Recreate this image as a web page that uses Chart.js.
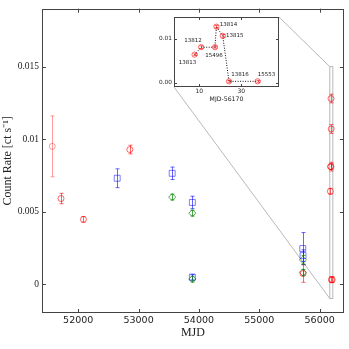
<!DOCTYPE html>
<html>
<head>
<meta charset="utf-8">
<script src="https://cdn.jsdelivr.net/npm/chart.js@4.4.1/dist/chart.umd.min.js"></script>
<style>
  html, body { margin: 0; padding: 0; background: #fff; }
  #wrap { position: relative; width: 349px; height: 349px; }
  #mainChart { position: absolute; left: 0; top: 0; }
  #insetChart { position: absolute; left: 150px; top: 10px; }
</style>
</head>
<body>
<div id="wrap">
  <canvas id="mainChart" width="349" height="349"></canvas>
  <canvas id="insetChart" width="135" height="95"></canvas>
</div>
<script>
// Light curve: count rate vs MJD, three instruments + zoom on the 2012 outburst

// main axes ticks
const xTicks = [52000, 53000, 54000, 55000, 56000];
const yTicks = [0, 0.005, 0.01, 0.015];
const yTickLabels = ['0', '0.005', '0.01', '0.015'];

// red circles (earlier obs)
const redMjd  = [51570, 51715, 52087, 52855, 55725];
const redRate = [0.0095, 0.0059, 0.00446, 0.00928, 0.00072];
const redErr  = [0.0021, 0.00036, 0.0002, 0.0003, 0.0006];

// blue squares
const blueMjd  = [52646, 53557, 53891, 53891, 55720, 55725];
const blueRate = [0.0073, 0.00764, 0.00563, 0.00047, 0.00245, 0.00196];
const blueErr  = [0.00065, 0.00043, 0.00043, 0.0002, 0.0011, 0.0004];

// green diamonds
const greenMjd  = [53557, 53891, 53891, 55722, 55722];
const greenRate = [0.0060, 0.00489, 0.00034, 0.00167, 0.0008];
const greenErr  = [0.0002, 0.0002, 0.0002, 0.0003, 0.0002];

// 2012 outburst (inset), days after MJD 56170
const mjdOffset = 56170;
const obsIds  = ['13813', '13812', '15496', '13814', '13815', '13816', '15553'];
const obsDay  = [7.8, 10.9, 17.5, 18.2, 21.2, 24.2, 37.8];
const obsRate = [0.0064, 0.0081, 0.0081, 0.0128, 0.0107, 0.0003, 0.0003];
const obsErr  = [0.0002, 0.0003, 0.0002, 0.0003, 0.0003, 0.0002, 0.0002];

// inset axes
const insetXTicks = [10, 30];
const insetYTicks = [0, 0.01];
const insetYTickLabels = ['0.00', '0.01'];
const insetXRange = [-2, 48];
const insetYRange = [-0.001, 0.015];

// label offsets (px) for the obsid annotations
const labelOffsets = [[-7, 8], [-8, -7], [-1, 8], [12, -2], [12, 0], [11, -7], [9, -7]];

const axisColor = '#444';

// error bars drawn through the library scales
const errorBarPlugin = {
    id: 'errorBars',
    afterDatasetsDraw(chart) {
        const ctx = chart.ctx;
        const yScale = chart.scales.y;
        chart.data.datasets.forEach((ds, di) => {
            if (!ds.errors) return;
            const meta = chart.getDatasetMeta(di);
            ctx.save();
            ctx.lineWidth = 1;
            meta.data.forEach((pt, i) => {
                const v = ds.data[i].y;
                const e = ds.errors[i];
                const top = yScale.getPixelForValue(v + e);
                const bot = yScale.getPixelForValue(v - e);
                const x = Math.round(pt.x) + 0.5;
                ctx.strokeStyle = Array.isArray(ds.errColor) ? ds.errColor[i] : ds.errColor;
                ctx.beginPath();
                ctx.moveTo(x, top);
                ctx.lineTo(x, bot);
                ctx.moveTo(x - 2, top);
                ctx.lineTo(x + 2, top);
                ctx.moveTo(x - 2, bot);
                ctx.lineTo(x + 2, bot);
                ctx.stroke();
            });
            ctx.restore();
        });
    }
};

// matplotlib-ish frame with inward ticks on all four sides
function framePlugin(tickLen) {
    return {
        id: 'frame',
        afterDraw(chart) {
            const { ctx, chartArea: a, scales } = chart;
            ctx.save();
            ctx.strokeStyle = axisColor;
            ctx.lineWidth = 1;
            ctx.strokeRect(Math.round(a.left) + 0.5, Math.round(a.top) + 0.5,
                Math.round(a.right - a.left) - 1, Math.round(a.bottom - a.top) - 1);
            ctx.beginPath();
            scales.x.ticks.forEach(t => {
                const x = Math.round(scales.x.getPixelForValue(t.value)) + 0.5;
                ctx.moveTo(x, a.bottom); ctx.lineTo(x, a.bottom - tickLen);
                ctx.moveTo(x, a.top); ctx.lineTo(x, a.top + tickLen);
            });
            scales.y.ticks.forEach(t => {
                const y = Math.round(scales.y.getPixelForValue(t.value)) + 0.5;
                ctx.moveTo(a.left, y); ctx.lineTo(a.left + tickLen, y);
                ctx.moveTo(a.right, y); ctx.lineTo(a.right - tickLen, y);
            });
            ctx.stroke();
            ctx.restore();
        }
    };
}

// ---------- inset ----------
function initInsetChart() {
    const ctx = document.getElementById('insetChart').getContext('2d');
    const pts = obsDay.map((d, i) => ({ x: d, y: obsRate[i] }));

    const labelPlugin = {
        id: 'obsLabels',
        beforeDraw(chart) {
            const a = chart.chartArea;
            chart.ctx.save();
            chart.ctx.fillStyle = '#fff';
            chart.ctx.fillRect(a.left, a.top, a.right - a.left, a.bottom - a.top);
            chart.ctx.restore();
        },
        afterDatasetsDraw(chart) {
            const c = chart.ctx;
            const meta = chart.getDatasetMeta(0);
            c.save();
            c.font = '5.5px "DejaVu Sans"';
            c.fillStyle = '#222';
            c.textAlign = 'center';
            c.textBaseline = 'middle';
            meta.data.forEach((pt, i) => {
                c.fillText(obsIds[i], pt.x + labelOffsets[i][0], pt.y + labelOffsets[i][1]);
            });
            c.restore();
        }
    };

    return new Chart(ctx, {
        type: 'scatter',
        data: {
            datasets: [{
                data: pts,
                errors: obsErr,
                errColor: 'rgba(255, 0, 0, 0.6)',
                showLine: true,
                borderColor: '#111',
                borderWidth: 1,
                borderDash: [1, 1.5],
                pointStyle: 'circle',
                pointRadius: 2.6,
                pointBorderWidth: 1,
                pointBorderColor: 'rgba(255, 0, 0, 0.6)',
                pointBackgroundColor: 'rgba(255, 255, 255, 0)'
            }]
        },
        options: {
            responsive: false,
            animation: false,
            events: [],
            layout: { padding: { top: 7, right: 6, left: 0, bottom: 0 } },
            plugins: { legend: { display: false }, tooltip: { enabled: false } },
            scales: {
                x: {
                    type: 'linear',
                    min: insetXRange[0],
                    max: insetXRange[1],
                    grid: { display: false, drawTicks: false },
                    border: { display: false },
                    afterBuildTicks: s => { s.ticks = insetXTicks.map(v => ({ value: v })); },
                    afterFit: s => { s.height = 18; },
                    ticks: {
                        padding: 1,
                        maxRotation: 0,
                        color: '#222',
                        font: { family: 'DejaVu Sans', size: 6 },
                        callback: v => String(v)
                    },
                    title: {
                        display: true,
                        text: 'MJD-56170',
                        color: '#222',
                        font: { family: 'DejaVu Sans', size: 6.2 },
                        padding: { top: 0, bottom: 2 }
                    }
                },
                y: {
                    min: insetYRange[0],
                    max: insetYRange[1],
                    grid: { display: false, drawTicks: false },
                    border: { display: false },
                    afterBuildTicks: s => { s.ticks = insetYTicks.map(v => ({ value: v })); },
                    afterFit: s => { s.width = 24; },
                    ticks: {
                        padding: 2,
                        color: '#222',
                        font: { family: 'DejaVu Sans', size: 5.8 },
                        callback: v => insetYTickLabels[insetYTicks.indexOf(v)]
                    }
                }
            }
        },
        plugins: [labelPlugin, errorBarPlugin, framePlugin(3)]
    });
}

// ---------- main ----------
function initMainChart(inset) {
    const ctx = document.getElementById('mainChart').getContext('2d');
    const insetBox = document.getElementById('insetChart');
    const offX = insetBox.offsetLeft, offY = insetBox.offsetTop;

    const red = redMjd.map((m, i) => ({ x: m, y: redRate[i] }))
        .concat(obsDay.map((d, i) => ({ x: mjdOffset + d, y: obsRate[i] })));
    const redE = redErr.concat(obsErr);
    const redCol = red.map((p, i) => i === 0 ? 'rgba(255, 0, 0, 0.38)' : 'rgba(255, 0, 0, 0.6)');

    const zoomPlugin = {
        id: 'zoomBox',
        beforeDatasetsDraw(chart) {
            const c = chart.ctx, sx = chart.scales.x, sy = chart.scales.y;
            const x0 = sx.getPixelForValue(mjdOffset + insetXRange[0]);
            const x1 = sx.getPixelForValue(mjdOffset + insetXRange[1]);
            const y0 = sy.getPixelForValue(insetYRange[1]);
            const y1 = sy.getPixelForValue(insetYRange[0]);
            const ia = inset.chartArea;
            c.save();
            c.strokeStyle = '#b8b8b8';
            c.lineWidth = 1;
            c.strokeRect(x0, y0, x1 - x0, y1 - y0);
            c.beginPath();
            c.moveTo(offX + ia.right, offY + ia.top);
            c.lineTo(x0, y0);
            c.moveTo(offX + ia.left, offY + ia.bottom);
            c.lineTo(x0, y1);
            c.stroke();
            c.restore();
        }
    };

    return new Chart(ctx, {
        type: 'scatter',
        data: {
            datasets: [
                {
                    data: red,
                    errors: redE,
                    errColor: redCol,
                    pointStyle: 'circle',
                    pointRadius: 3,
                    pointBorderWidth: 1,
                    pointBorderColor: redCol,
                    pointBackgroundColor: 'rgba(255, 255, 255, 0)'
                },
                {
                    data: blueMjd.map((m, i) => ({ x: m, y: blueRate[i] })),
                    errors: blueErr,
                    errColor: 'rgba(0, 0, 255, 0.6)',
                    pointStyle: 'rect',
                    pointRadius: 4.2,
                    pointBorderWidth: 1,
                    pointBorderColor: 'rgba(0, 0, 255, 0.5)',
                    pointBackgroundColor: 'rgba(255, 255, 255, 0)'
                },
                {
                    data: greenMjd.map((m, i) => ({ x: m, y: greenRate[i] })),
                    errors: greenErr,
                    errColor: 'rgba(0, 128, 0, 0.7)',
                    pointStyle: 'rectRot',
                    pointRadius: 3.6,
                    pointBorderWidth: 1,
                    pointBorderColor: 'rgba(0, 128, 0, 0.65)',
                    pointBackgroundColor: 'rgba(255, 255, 255, 0)'
                }
            ]
        },
        options: {
            responsive: false,
            animation: false,
            events: [],
            layout: { padding: { top: 3, right: 4, left: 0, bottom: 0 } },
            plugins: { legend: { display: false }, tooltip: { enabled: false } },
            scales: {
                x: {
                    type: 'linear',
                    min: 51400,
                    max: 56400,
                    grid: { display: false, drawTicks: false },
                    border: { display: false },
                    afterBuildTicks: s => { s.ticks = xTicks.map(v => ({ value: v })); },
                    afterFit: s => { s.height = 36; },
                    ticks: {
                        padding: 2,
                        maxRotation: 0,
                        color: '#222',
                        font: { family: 'DejaVu Sans', size: 9.5 },
                        callback: v => String(v)
                    },
                    title: {
                        display: true,
                        text: 'MJD',
                        color: '#222',
                        font: { family: 'Liberation Serif', size: 12 },
                        padding: { top: 0, bottom: 9 }
                    }
                },
                y: {
                    min: -0.002,
                    max: 0.019,
                    grid: { display: false, drawTicks: false },
                    border: { display: false },
                    afterBuildTicks: s => { s.ticks = yTicks.map(v => ({ value: v })); },
                    afterFit: s => { s.width = 42; },
                    ticks: {
                        padding: 3,
                        color: '#222',
                        font: { family: 'Liberation Serif', size: 9.5 },
                        callback: v => yTickLabels[yTicks.indexOf(v)]
                    },
                    title: {
                        display: true,
                        text: 'Count Rate [ct s\u207B\u00B9]',
                        color: '#222',
                        font: { family: 'Liberation Serif', size: 12 },
                        padding: { top: 1, bottom: 0 }
                    }
                }
            }
        },
        plugins: [zoomPlugin, errorBarPlugin, framePlugin(4)]
    });
}

document.addEventListener('DOMContentLoaded', () => {
    const inset = initInsetChart();
    initMainChart(inset);
});
</script>
</body>
</html>
